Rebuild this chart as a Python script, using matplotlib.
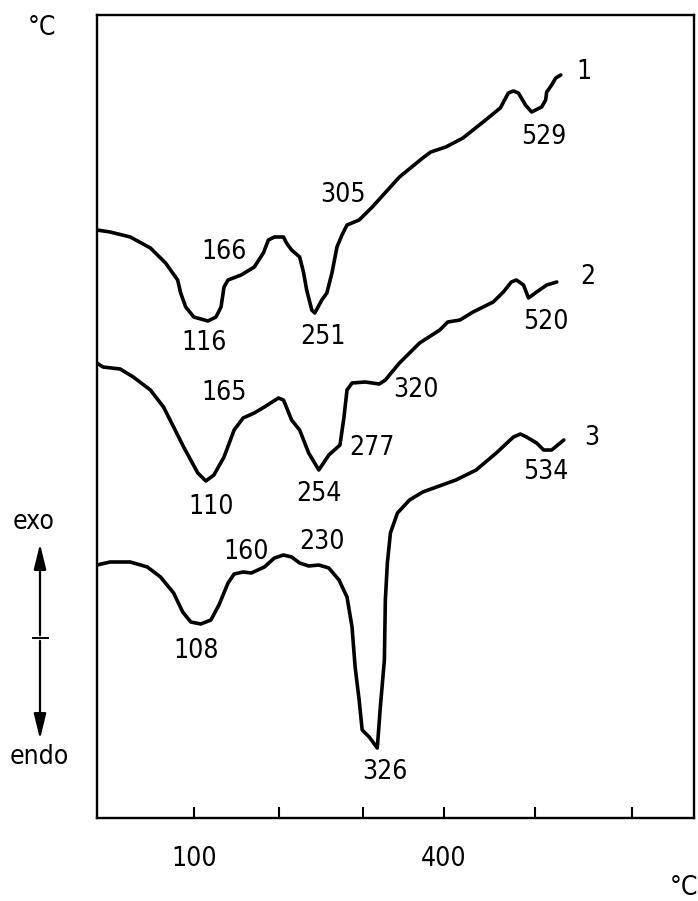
import numpy as np
import matplotlib
matplotlib.use("Agg")
import matplotlib.pyplot as plt
from matplotlib import font_manager
from matplotlib.patches import FancyArrowPatch
from matplotlib.lines import Line2D

# ---------------- data (temperature in degC, DTA signal in arbitrary units) ----
t1 = [-13, 2.4, 25.9, 49.4, 67.1, 81.2, 84.7, 90.6, 100, 116.5, 125.9, 131.8, 135.3,
      140, 155.3, 170.6, 181.2, 187.1, 194.1, 204.8, 208.4, 214.5, 224.1, 228.9,
      232.5, 238.6, 242.2, 250.6, 256.6, 262.7, 268.7, 274.7, 280.7, 295.2, 311.3,
      345, 373.8, 383.8, 402.2, 421.1, 443.3, 462.2, 471.1, 476.7, 482.2, 490,
      496.7, 507.2, 511.3, 512.4, 517.5, 521.6, 526.8]
s1 = [58.8, 58.6, 58.1, 57.0, 55.5, 53.8, 52.5, 51.1, 50.1, 49.7, 50.1, 51.1, 53.1,
      53.8, 54.3, 55.1, 56.5, 57.8, 58.1, 58.1, 57.5, 56.8, 56.1, 54.5,
      52.8, 50.8, 50.5, 51.8, 52.5, 54.5, 57.1, 58.3, 59.3, 59.8, 61.1,
      64.1, 66.0, 66.6, 67.1, 68.0, 69.6, 71.0, 72.5, 72.7, 72.5, 71.3,
      70.6, 71.1, 71.8, 72.6, 73.3, 74.0, 74.3]

t2 = [-13, -5.9, 14.1, 29.4, 49.4, 64.7, 76.5, 88.2, 104.7, 114.1, 123.5, 135.3,
      147.1, 157.6, 170.6, 182.4, 198.8, 204.8, 214.5, 224.1, 234.9, 247, 259,
      272.3, 277.1, 280.7, 286.7, 302.5, 320, 327.5, 345, 370, 395, 404.4, 417.8,
      432.2, 454.4, 465.6, 474.4, 480, 487.8, 493.3, 502.1, 512.4, 522.7]
s2 = [45.5, 45.1, 44.9, 44.1, 42.8, 41.1, 39.1, 37.1, 34.5, 33.7, 34.3, 36.1,
      38.8, 40.0, 40.5, 41.1, 42.0, 41.8, 39.8, 38.8, 36.5, 34.8, 36.3,
      37.3, 40.1, 42.8, 43.5, 43.6, 43.4, 43.8, 45.5, 47.5, 48.8, 49.6, 49.8,
      50.6, 51.6, 52.6, 53.6, 53.8, 53.3, 52.0, 52.6, 53.3, 53.6]

t3 = [-13, 2.4, 25.9, 45.9, 61.2, 76.5, 87.1, 96.5, 108.2, 120, 129.4, 140, 147.1,
      157.6, 167.1, 182.4, 194.1, 204.8, 214.5, 224.1, 234.9, 247, 259, 271.1,
      280.7, 286.7, 290.4, 295.2, 298.8, 307.5, 317.5, 321.3, 326.3, 327.5, 330,
      333.8, 342.5, 357.5, 373.8, 413.3, 435.6, 457.8, 476.7, 484.4, 491.1,
      502.1, 509.3, 517.5, 529.9]
s3 = [25.3, 25.6, 25.6, 25.1, 24.1, 22.5, 20.6, 19.6, 19.4, 19.8, 21.3, 23.5, 24.4,
      24.6, 24.5, 25.1, 26.0, 26.3, 26.1, 25.5, 25.2, 25.3, 25.0, 23.8,
      22.1, 19.1, 15.1, 11.8, 8.8, 8.1, 7.0, 11.1, 15.8, 21.8, 25.5,
      28.5, 30.5, 31.8, 32.6, 33.8, 34.8, 36.5, 38.1, 38.4, 38.1,
      37.5, 36.8, 36.8, 37.8]

# peak labels: text, temperature position, signal position
peak_labels = ["166", "116", "251", "305", "529", "1",
               "165", "110", "254", "277", "320", "520", "2",
               "160", "230", "108", "326", "534", "3"]
peak_t = [135.3, 111.8, 251.8, 275.9, 509.3, 550.5,
          135.3, 120, 247, 311.3, 365, 511.3, 554.6,
          161.2, 250.6, 102.4, 327.5, 511.3, 558.8]
peak_s = [56.6, 47.5, 48.1, 62.3, 68.1, 74.6,
          42.5, 31.1, 32.4, 37.0, 42.8, 49.6, 54.1,
          26.6, 27.6, 16.7, 4.6, 34.6, 38.0]

tick_temps = [100, 200, 300, 400, 500, 600]
tick_texts = ["100", "", "", "400", "", ""]

# --------------- uneven (hand drawn) temperature scale of the original -------
scale_t = [-100, 100, 200, 300, 400, 500, 600, 800]
scale_p = [23, 193, 278, 361, 441, 531, 628, 822]


def fwd(t):
    return np.interp(t, scale_t, scale_p)


def inv(p):
    return np.interp(p, scale_p, scale_t)


# ---------------- font -------------------------------------------------------
names = {f.name for f in font_manager.fontManager.ttflist}
fam = "DejaVu Sans"
stretch = "condensed"
for cand in ["DejaVu Sans Condensed", "Liberation Sans Narrow"]:
    if cand in names:
        fam = cand
        break
plt.rcParams["font.family"] = [fam, "DejaVu Sans"]
FS = 19

W, H = 698, 901
fig = plt.figure(figsize=(W / 100, H / 100), dpi=100)
ax = fig.add_axes([97 / W, 1 - 818 / H, (694 - 97) / W, (818 - 15) / H])
ax.set_xscale("function", functions=(fwd, inv))
ax.set_xlim(-12.9, 663)
ax.set_ylim(0, 80.3)

for t, s in [(t1, s1), (t2, s2), (t3, s3)]:
    ax.plot(t, s, color="black", lw=2.6, solid_joinstyle="round",
            solid_capstyle="round")

for lab, tx, sy in zip(peak_labels, peak_t, peak_s):
    ax.text(tx, sy, lab, ha="center", va="center", fontsize=FS,
            fontstretch=stretch, color="black")

for sp in ax.spines.values():
    sp.set_linewidth(1.7)
ax.set_xticks(tick_temps)
ax.set_xticklabels(tick_texts, fontsize=FS, fontstretch=stretch)
ax.tick_params(axis="x", direction="in", length=8, width=1.5, pad=20)
ax.set_yticks([])
ax.xaxis.set_minor_locator(matplotlib.ticker.NullLocator())

# axis unit labels
fig.text(42 / W, 1 - 28 / H, "°C", ha="center", va="center", fontsize=FS,
         fontstretch=stretch)
fig.text(684 / W, 1 - 888 / H, "°C", ha="center", va="center", fontsize=FS,
         fontstretch=stretch)

# exo / endo arrow
fig.text(34 / W, 1 - 522 / H, "exo", ha="center", va="center", fontsize=FS,
         fontstretch=stretch)
fig.text(39 / W, 1 - 757 / H, "endo", ha="center", va="center", fontsize=FS,
         fontstretch=stretch)
xa = 40 / W
ymid = 1 - 638 / H
for ytip in (1 - 541 / H, 1 - 742 / H):
    arr = FancyArrowPatch((xa, ymid), (xa, ytip), transform=fig.transFigure,
                          arrowstyle="-|>,head_length=7,head_width=1.7",
                          color="black", lw=1.6, mutation_scale=2.2)
    fig.add_artist(arr)
fig.add_artist(Line2D([33 / W, 48 / W], [ymid, ymid], transform=fig.transFigure,
                      color="black", lw=1.4))

fig.savefig("out.png", dpi=100)
